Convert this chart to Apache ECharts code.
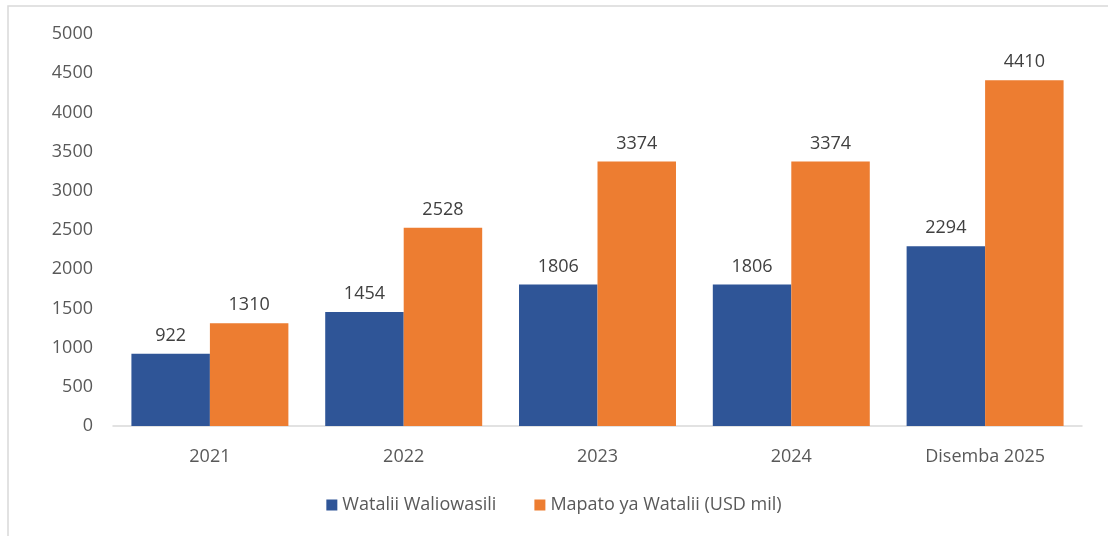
<!DOCTYPE html>
<html><head><meta charset="utf-8">
<script src="https://cdn.jsdelivr.net/npm/echarts@6/dist/echarts.min.js"></script>
<style>html,body{margin:0;padding:0;background:#fff}#c{width:1108px;height:536px}</style>
</head><body><div id="c"></div>
<script>
const categories = ['2021', '2022', '2023', '2024', 'Disemba 2025'];
const visitors = [922, 1454, 1806, 1806, 2294];
const revenue = [1310, 2528, 3374, 3374, 4410];
const seriesNames = ['Watalii Waliowasili', 'Mapato ya Watalii (USD mil)'];
const yTicks = {min: 0, max: 5000, interval: 500};

const font = 'Open Sans';
const chart = echarts.init(document.getElementById('c'), null, {renderer: 'canvas'});
const labelCfg = {show: true, position: 'top', distance: 9, color: '#404040', fontSize: 18, fontFamily: font};
chart.setOption({
  animation: false,
  graphic: [{type: 'rect', shape: {x: 8, y: 6, width: 1200, height: 600}, style: {fill: 'none', stroke: '#d9d9d9', lineWidth: 1.5}, silent: true}],
  grid: {left: 113, right: 26, top: 34, bottom: 110},
  legend: {
    bottom: 17, left: 'center', itemWidth: 11, itemHeight: 11, itemGap: 38,
    icon: 'rect',
    textStyle: {color: '#595959', fontSize: 18, fontFamily: font},
    data: seriesNames
  },
  xAxis: {
    type: 'category', data: categories,
    axisLine: {lineStyle: {color: '#d9d9d9', width: 1.5}},
    axisTick: {show: false},
    axisLabel: {color: '#595959', fontSize: 18, fontFamily: font, margin: 22}
  },
  yAxis: {
    type: 'value', min: yTicks.min, max: yTicks.max, interval: yTicks.interval,
    splitLine: {show: false},
    axisLine: {show: false}, axisTick: {show: false},
    axisLabel: {color: '#595959', fontSize: 18, fontFamily: font, margin: 20, formatter: v => String(v)}
  },
  series: [
    {name: seriesNames[0], type: 'bar', data: visitors, barGap: '0%', barCategoryGap: '19%',
     itemStyle: {color: '#2F5597'}, label: labelCfg},
    {name: seriesNames[1], type: 'bar', data: revenue, barGap: '0%', barCategoryGap: '19%',
     itemStyle: {color: '#ED7D31'}, label: labelCfg}
  ]
});
</script></body></html>
